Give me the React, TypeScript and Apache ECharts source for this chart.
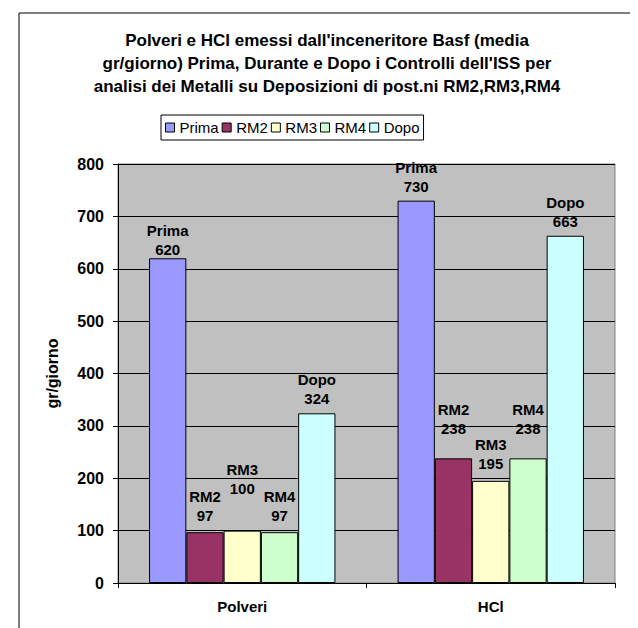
import React, { useEffect, useRef } from "react";
import * as echarts from "echarts";

const categories = ["Polveri", "HCl"];
const seriesNames = ["Prima", "RM2", "RM3", "RM4", "Dopo"];
const prima = [620, 730];
const rm2 = [97, 238];
const rm3 = [100, 195];
const rm4 = [97, 238];
const dopo = [324, 663];
const yTicks = [0, 100, 200, 300, 400, 500, 600, 700, 800];

const seriesValues = [prima, rm2, rm3, rm4, dopo];
const colors = ["#9999FF", "#993366", "#FFFFCC", "#CCFFCC", "#CCFFFF"];
// label distance above each bar (layout only)
const labelDistance = [
  [-1, 5],
  [7, 20],
  [33, 8],
  [7, 20],
  [5, 5],
];

const FONT = "'Liberation Sans', Arial, sans-serif";

export default function App() {
  const ref = useRef<HTMLDivElement>(null);
  useEffect(() => {
    if (!ref.current) return;
    const chart = echarts.init(ref.current, null, { renderer: "svg" });
    chart.setOption({
      animation: false,
      textStyle: { fontFamily: FONT },
      graphic: [
        {
          type: "rect",
          shape: { x: 11, y: 5, width: 700, height: 700 },
          style: { fill: "#ffffff", stroke: "#000000", lineWidth: 1 },
          z: -10,
          silent: true,
        },
        {
          type: "text",
          x: 319,
          y: 21,
          style: {
            text:
              "Polveri e HCl emessi dall'inceneritore Basf (media\ngr/giorno) Prima, Durante e Dopo i Controlli dell'ISS per\nanalisi dei Metalli su Deposizioni di post.ni RM2,RM3,RM4",
            fontFamily: FONT,
            fontSize: 17,
            fontWeight: "bold",
            lineHeight: 23,
            align: "center",
            verticalAlign: "top",
            fill: "#000000",
          },
        },
      ],
      legend: {
        top: 107,
        left: 153,
        data: seriesNames,
        itemWidth: 9,
        itemHeight: 9,
        itemGap: 3,
        icon: "rect",
        borderColor: "#000000",
        borderWidth: 1,
        padding: [5, 4, 5, 4],
        textStyle: { fontFamily: FONT, fontSize: 15, color: "#000000" },
        itemStyle: { borderColor: "#000000", borderWidth: 1 },
      },
      grid: {
        left: 110,
        top: 156,
        right: 31,
        bottom: 53,
        show: true,
        backgroundColor: "#C0C0C0",
        borderColor: "#808080",
        borderWidth: 1,
      },
      xAxis: {
        type: "category",
        data: categories,
        axisLine: { show: true, lineStyle: { color: "#000000" } },
        axisTick: { show: true, inside: false, length: 5, lineStyle: { color: "#000000" } },
        axisLabel: {
          color: "#000000",
          fontFamily: FONT,
          fontSize: 15,
          fontWeight: "bold",
          margin: 16,
        },
      },
      yAxis: {
        type: "value",
        min: yTicks[0],
        max: yTicks[yTicks.length - 1],
        interval: 100,
        name: "gr/giorno",
        nameLocation: "middle",
        nameGap: 58,
        nameTextStyle: { color: "#000000", fontFamily: FONT, fontSize: 16, fontWeight: "bold" },
        axisLine: { show: true, lineStyle: { color: "#000000" } },
        axisTick: { show: true, inside: false, length: 5, lineStyle: { color: "#000000" } },
        axisLabel: {
          color: "#000000",
          fontFamily: FONT,
          fontSize: 16,
          fontWeight: "bold",
          margin: 14,
        },
        splitLine: { show: true, lineStyle: { color: "#000000", width: 1 } },
      },
      series: seriesNames.map((name, i) => ({
        name,
        type: "bar",
        barGap: "0%",
        barCategoryGap: "25%",
        itemStyle: { color: colors[i], borderColor: "#000000", borderWidth: 1 },
        data: seriesValues[i].map((v, j) => ({
          value: v,
          label: { distance: labelDistance[i][j] },
        })),
        label: {
          show: true,
          position: "top",
          formatter: "{a}\n{c}",
          color: "#000000",
          fontFamily: FONT,
          fontSize: 15,
          fontWeight: "bold",
          lineHeight: 19,
          align: "center",
        },
      })),
    });
    return () => chart.dispose();
  }, []);
  return <div ref={ref} style={{ width: 638, height: 628 }} />;
}
